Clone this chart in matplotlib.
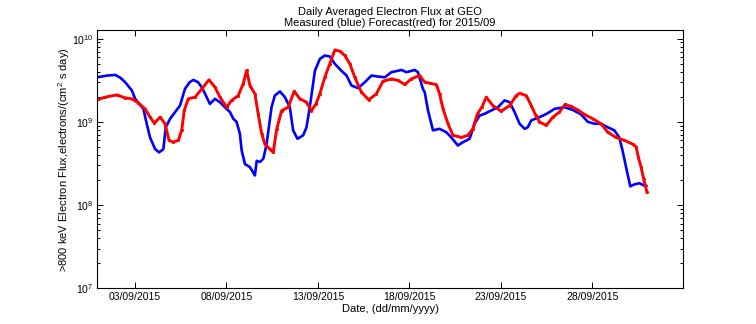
import matplotlib
matplotlib.use("Agg")
import matplotlib.pyplot as plt
from matplotlib.ticker import LogLocator, NullFormatter

plt.rcParams['font.family'] = ['Liberation Sans', 'DejaVu Sans']
plt.rcParams['mathtext.fontset'] = 'custom'
plt.rcParams['mathtext.rm'] = 'Liberation Sans'

# Measured daily-averaged flux (day of September 2015)
measured_day = [1.0, 1.5, 1.93, 2.2, 2.47, 2.84, 3.02, 3.47, 3.65, 3.83, 4.11, 4.33,
                4.56, 4.69, 4.93, 5.2, 5.47, 5.74, 6.0, 6.2, 6.45, 6.66, 6.84, 7.1,
                7.38, 7.65, 7.92, 8.2, 8.38, 8.56, 8.74, 8.84, 9.02, 9.29, 9.56, 9.66,
                9.84, 10.02, 10.2, 10.47, 10.65, 10.93, 11.2, 11.47, 11.65, 11.89, 12.2,
                12.38, 12.56, 12.84, 13.11, 13.38, 13.65, 13.93, 14.29, 14.57, 14.84,
                15.2, 15.57, 15.93, 16.29, 16.66, 17.02, 17.57, 17.84, 18.29, 18.47,
                18.74, 18.84, 19.02, 19.29, 19.65, 20.02, 20.29, 20.65, 20.93, 21.29,
                21.57, 21.84, 22.11, 22.48, 22.84, 23.2, 23.48, 23.75, 24.02, 24.3,
                24.47, 24.66, 24.84, 25.2, 25.56, 25.93, 26.47, 26.93, 27.38, 27.75,
                28.11, 28.47, 28.84, 29.2, 29.47, 29.65, 29.84, 30.07, 30.29, 30.56,
                30.83, 30.95]
measured_flux = [3.45e9, 3.6e9, 3.66e9, 3.4e9, 3.0e9, 2.38e9, 1.89e9, 1.43e9, 9.5e8, 6.5e8,
                 4.7e8, 4.3e8, 4.7e8, 8.6e8, 1.09e9, 1.31e9, 1.57e9, 2.49e9, 3.0e9, 3.19e9,
                 3.0e9, 2.6e9, 2.17e9, 1.64e9, 1.89e9, 1.72e9, 1.5e9, 1.31e9, 1.09e9, 1.0e9,
                 7.2e8, 4.5e8, 3.1e8, 2.86e8, 2.27e8, 3.4e8, 3.3e8, 3.6e8, 5.4e8, 1.5e9,
                 2.07e9, 2.32e9, 1.98e9, 1.5e9, 7.9e8, 6.25e8, 6.9e8, 8.6e8, 1.5e9, 4.1e9,
                 5.7e9, 6.27e9, 6.1e9, 4.97e9, 4.1e9, 3.6e9, 2.73e9, 2.54e9, 3.0e9, 3.6e9,
                 3.5e9, 3.43e9, 3.95e9, 4.2e9, 3.95e9, 4.2e9, 3.95e9, 2.49e9, 2.27e9,
                 1.37e9, 7.9e8, 8.25e8, 7.5e8, 6.5e8, 5.2e8, 5.7e8, 6.25e8, 9.5e8, 1.19e9,
                 1.25e9, 1.37e9, 1.5e9, 1.81e9, 1.72e9, 1.31e9, 9.5e8, 8.25e8, 8.6e8,
                 1.04e9, 1.08e9, 1.16e9, 1.27e9, 1.43e9, 1.5e9, 1.39e9, 1.23e9, 1.0e9,
                 9.5e8, 9.5e8, 8.6e8, 7.9e8, 6.5e8, 4.5e8, 2.86e8, 1.68e8, 1.77e8, 1.83e8,
                 1.72e8, 1.7e8]

# Forecast daily-averaged flux
forecast_day = [1.0, 1.38, 2.02, 2.47, 2.84, 3.2, 3.56, 3.83, 4.07, 4.38, 4.65, 4.87,
                5.1, 5.38, 5.56, 5.7, 5.92, 6.29, 6.66, 7.05, 7.38, 7.65, 8.02, 8.29,
                8.65, 8.92, 9.11, 9.29, 9.56, 9.74, 9.93, 10.11, 10.38, 10.56, 10.75,
                11.02, 11.38, 11.71, 12.02, 12.38, 12.65, 12.9, 13.11, 13.38, 13.65,
                13.93, 14.2, 14.47, 14.75, 15.02, 15.38, 15.78, 16.2, 16.56, 17.02,
                17.38, 17.75, 18.11, 18.56, 18.84, 19.15, 19.48, 19.65, 19.84, 20.11,
                20.38, 20.84, 21.2, 21.47, 21.71, 21.96, 22.2, 22.56, 23.02, 23.48,
                23.84, 24.02, 24.39, 24.66, 24.9, 25.11, 25.48, 25.84, 26.2, 26.51,
                26.84, 27.2, 27.56, 28.02, 28.47, 28.84, 29.29, 29.74, 30.2, 30.39,
                30.51, 30.66, 30.8, 30.98]
forecast_flux = [1.86e9, 1.98e9, 2.11e9, 1.94e9, 1.89e9, 1.68e9, 1.43e9, 1.14e9, 9.65e8,
                 1.14e9, 9.5e8, 6.0e8, 5.7e8, 6.0e8, 7.9e8, 1.37e9, 1.89e9, 1.98e9, 2.49e9,
                 3.2e9, 2.61e9, 1.98e9, 1.5e9, 1.81e9, 2.07e9, 2.86e9, 4.14e9, 2.73e9,
                 2.17e9, 1.25e9, 7.2e8, 5.4e8, 4.7e8, 4.3e8, 8.1e8, 1.36e9, 1.5e9, 2.33e9,
                 1.89e9, 1.72e9, 1.36e9, 1.65e9, 2.17e9, 3.43e9, 4.97e9, 7.3e9, 7.07e9,
                 6.27e9, 4.97e9, 3.43e9, 2.27e9, 1.84e9, 2.17e9, 3.08e9, 3.28e9, 3.14e9,
                 2.81e9, 3.28e9, 3.6e9, 3.0e9, 2.9e9, 2.8e9, 2.17e9, 1.43e9, 9.5e8, 6.9e8,
                 6.5e8, 6.9e8, 8.25e8, 1.23e9, 1.5e9, 1.98e9, 1.57e9, 1.34e9, 1.57e9,
                 2.07e9, 2.2e9, 2.07e9, 1.57e9, 1.2e9, 1.0e9, 9.06e8, 1.14e9, 1.31e9,
                 1.62e9, 1.53e9, 1.39e9, 1.23e9, 1.09e9, 9.5e8, 7.5e8, 6.5e8, 6.0e8,
                 5.4e8, 5.0e8, 3.77e8, 2.86e8, 2.07e8, 1.43e8]

tick_days = [3, 8, 13, 18, 23, 28]
tick_labels = ['03/09/2015', '08/09/2015', '13/09/2015', '18/09/2015',
               '23/09/2015', '28/09/2015']

fig = plt.figure(figsize=(7.56, 3.24), dpi=100)
ax = fig.add_axes([0.1287, 0.1102, 0.7747, 0.7963])

ax.plot(measured_day, measured_flux, color='#0000ff', lw=1.9, solid_joinstyle='round')
ax.plot(forecast_day, forecast_flux, color='#ff0000', lw=2.1, marker='.', ms=2.5,
        solid_joinstyle='round')

ax.set_yscale('log')
ax.set_ylim(1e7, 10 ** 10.1)
ax.set_xlim(0.95, 32.95)
ax.set_xticks(tick_days)
ax.set_xticklabels(tick_labels)
ax.yaxis.set_major_locator(LogLocator(base=10, numticks=10))
ax.yaxis.set_minor_locator(LogLocator(base=10, subs=range(2, 10), numticks=20))
ax.yaxis.set_minor_formatter(NullFormatter())

ax.tick_params(which='both', direction='in', top=True, right=True, labelsize=7.5,
               width=0.7, pad=3)
ax.tick_params(which='major', length=4.5)
ax.tick_params(which='minor', length=2.5)
for s in ax.spines.values():
    s.set_linewidth(0.8)

ax.set_title('Daily Averaged Electron Flux at GEO\nMeasured (blue) Forecast(red) for 2015/09',
             fontsize=8, pad=3, linespacing=1.15)
ax.set_xlabel('Date, (dd/mm/yyyy)', fontsize=8, labelpad=1)
ax.set_ylabel('>800 keV Electron Flux,electrons/(cm$^2$ s day)', fontsize=8)
ax.yaxis.set_label_coords(-0.043, 0.5)

fig.savefig('out.png', dpi=100)
